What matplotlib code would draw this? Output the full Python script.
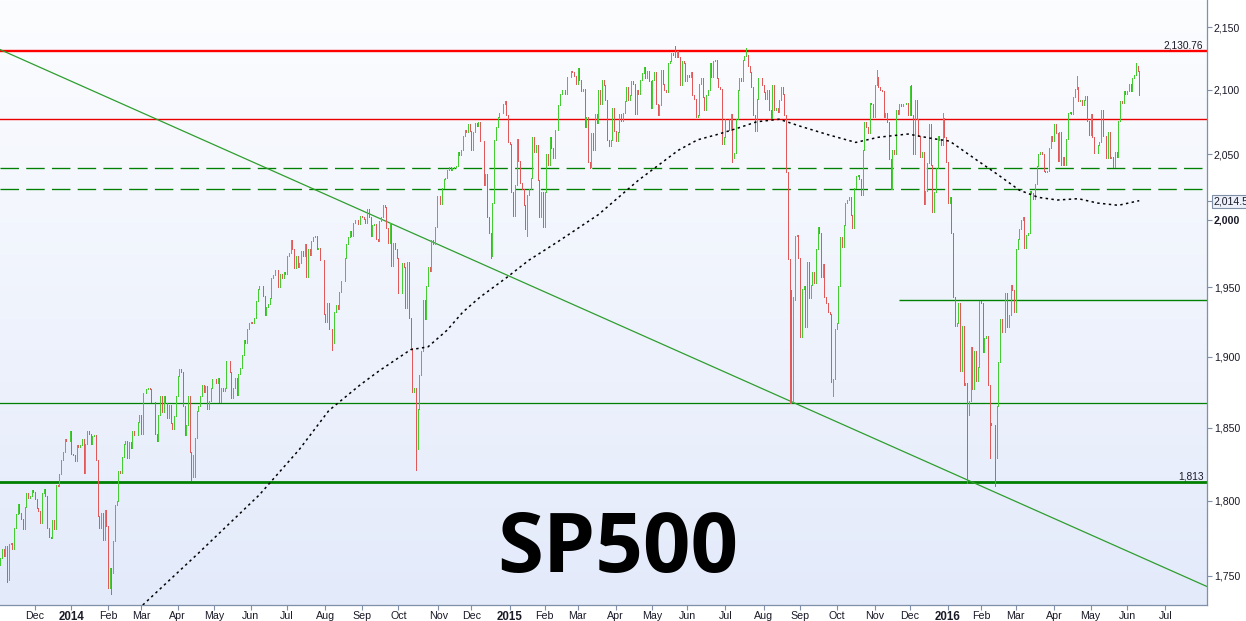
import numpy as np
import pandas as pd
import matplotlib
matplotlib.use("Agg")
import matplotlib.pyplot as plt
import matplotlib.transforms as mtransforms
from matplotlib.ticker import FixedLocator, FixedFormatter, NullLocator

# daily closes of the S&P 500, 2013-11-01 .. 2016-06-10
first_open = 1757
close = [
    # Nov 2013
    1762, 1768, 1763, 1770, 1747, 1771, 1772, 1768, 1782, 1791, 1798, 1792, 1788, 1781, 1796, 1805, 1802, 1803, 1807, 1806,
    # Dec 2013
    1801, 1795, 1793, 1785, 1805, 1808, 1803, 1782, 1776, 1775, 1787, 1781, 1811, 1810, 1818, 1828, 1833, 1842, 1841, 1841, 1848,
    # 2014
    1832, 1831, 1827, 1838, 1837, 1838, 1842, 1819, 1839, 1848, 1846, 1839, 1844, 1845, 1828, 1790, 1782, 1792, 1774, 1794, 1783,
    1742, 1755, 1752, 1773, 1797, 1800, 1820, 1819, 1830, 1839, 1841, 1829, 1840, 1836, 1848, 1845, 1845, 1854, 1859,
    1846, 1874, 1874, 1877, 1878, 1877, 1868, 1868, 1846, 1841, 1859, 1872, 1861, 1872, 1867, 1857, 1866, 1853, 1849, 1858, 1872,
    1886, 1891, 1889, 1865, 1845, 1852, 1872, 1833, 1816, 1831, 1843, 1862, 1865, 1872, 1880, 1875, 1879, 1863, 1869, 1878, 1884,
    1884, 1881, 1885, 1868, 1878, 1876, 1878, 1897, 1897, 1889, 1871, 1878, 1885, 1873, 1888, 1892, 1901, 1912, 1910, 1920, 1924,
    1925, 1924, 1928, 1940, 1949, 1951, 1951, 1944, 1930, 1936, 1938, 1942, 1957, 1959, 1963, 1963, 1950, 1960, 1957, 1961, 1960,
    1973, 1975, 1985, 1978, 1964, 1973, 1965, 1968, 1977, 1973, 1982, 1958, 1978, 1974, 1984, 1987, 1988, 1978, 1979, 1970, 1970, 1931,
    1925, 1939, 1920, 1920, 1910, 1932, 1937, 1934, 1947, 1955, 1955, 1972, 1982, 1987, 1992, 1988, 1998, 2000, 2000, 1997, 2003,
    2002, 2001, 1998, 2008, 2002, 1988, 1996, 1997, 1986, 1984, 1999, 2002, 2011, 2010, 1994, 1983, 1998, 1966, 1983, 1978, 1972,
    1946, 1946, 1968, 1965, 1935, 1969, 1928, 1906, 1875, 1878, 1862, 1863, 1887, 1904, 1941, 1927, 1951, 1965, 1962, 1985, 1982, 1995, 2018,
    2018, 2012, 2024, 2031, 2032, 2038, 2040, 2038, 2039, 2040, 2041, 2052, 2049, 2053, 2064, 2069, 2067, 2073, 2068,
    2053, 2067, 2074, 2072, 2075, 2060, 2060, 2026, 2035, 2002, 1990, 1973, 2013, 2061, 2071, 2079, 2082, 2082, 2089, 2091, 2080, 2059,
    # 2015
    2058, 2021, 2003, 2026, 2062, 2045, 2028, 2023, 2011, 1993, 2019, 2023, 2032, 2063, 2052, 2057, 2030, 2002, 2021, 1995,
    2021, 2050, 2042, 2063, 2055, 2047, 2069, 2069, 2088, 2097, 2100, 2100, 2097, 2110, 2110, 2115, 2114, 2111, 2105,
    2117, 2108, 2099, 2101, 2071, 2079, 2044, 2040, 2066, 2053, 2081, 2074, 2100, 2089, 2108, 2104, 2092, 2061, 2056, 2061, 2086, 2068,
    2060, 2067, 2081, 2076, 2082, 2091, 2102, 2092, 2096, 2107, 2105, 2081, 2100, 2097, 2108, 2113, 2118, 2109, 2115, 2107, 2086,
    2108, 2114, 2089, 2080, 2088, 2116, 2105, 2100, 2098, 2121, 2123, 2129, 2128, 2126, 2131, 2126, 2104, 2123, 2121, 2107,
    2112, 2110, 2114, 2096, 2093, 2079, 2080, 2105, 2109, 2094, 2084, 2096, 2100, 2121, 2110, 2123, 2124, 2109, 2102, 2101, 2058, 2063,
    2077, 2077, 2069, 2081, 2047, 2051, 2077, 2100, 2109, 2107, 2124, 2127, 2128, 2119, 2114, 2102, 2080, 2068, 2093, 2109, 2109, 2104,
    2098, 2093, 2100, 2084, 2078, 2104, 2084, 2086, 2083, 2092, 2102, 2097, 2080, 2036, 1971, 1893, 1868, 1941, 1988, 1989, 1972,
    1914, 1949, 1951, 1921, 1969, 1942, 1952, 1961, 1953, 1978, 1995, 1990, 1958, 1967, 1943, 1939, 1932, 1931, 1882, 1884, 1920,
    1924, 1951, 1987, 1980, 1996, 2013, 2015, 2017, 2004, 1994, 2024, 2033, 2034, 2031, 2019, 2053, 2075, 2071, 2066, 2090, 2089, 2079,
    2104, 2110, 2102, 2100, 2099, 2079, 2082, 2075, 2046, 2023, 2053, 2050, 2084, 2081, 2089, 2087, 2089, 2089, 2090, 2080,
    2103, 2080, 2050, 2092, 2077, 2064, 2048, 2052, 2012, 2022, 2043, 2073, 2042, 2006, 2021, 2039, 2064, 2061, 2057, 2078, 2063, 2044,
    # 2016
    2013, 2017, 1990, 1943, 1922, 1924, 1939, 1890, 1922, 1880, 1881, 1859, 1869, 1907, 1877, 1904, 1883, 1893, 1940,
    1939, 1903, 1913, 1915, 1880, 1853, 1852, 1852, 1829, 1865, 1896, 1927, 1918, 1918, 1946, 1921, 1930, 1952, 1948, 1932,
    1978, 1986, 1993, 2000, 2002, 1979, 1989, 1990, 2022, 2020, 2016, 2027, 2041, 2050, 2052, 2050, 2037, 2036, 2037, 2055, 2064, 2060,
    2073, 2066, 2045, 2067, 2042, 2048, 2042, 2062, 2082, 2083, 2081, 2094, 2101, 2102, 2091, 2092, 2088, 2092, 2095, 2076, 2065,
    2081, 2063, 2051, 2051, 2057, 2059, 2084, 2064, 2064, 2047, 2067, 2047, 2048, 2040, 2052, 2048, 2076, 2091, 2090, 2099, 2097,
    2099, 2105, 2099, 2109, 2112, 2119, 2115, 2096,
]

# intraday extremes that stick out of the close-to-close range
low_dates = ["2013-11-07", "2014-02-05", "2014-04-11", "2014-04-15", "2014-08-07", "2014-10-15", "2014-10-16",
             "2014-12-16", "2015-01-16", "2015-03-11", "2015-07-08", "2015-08-24", "2015-08-25", "2015-09-29",
             "2016-01-20", "2016-02-08", "2016-02-11"]
low_vals = [1746, 1738, 1814, 1816, 1905, 1821, 1835, 1972, 1988, 2039, 2044, 1867, 1867, 1872, 1812, 1829, 1810]
high_dates = ["2015-05-20", "2015-07-20", "2015-08-24", "2015-08-25", "2015-08-26", "2015-11-03", "2015-12-02",
              "2015-12-29", "2016-04-20", "2016-06-08"]
high_vals = [2135, 2133, 1965, 1948, 1943, 2116, 2104, 2082, 2111, 2121]

# 200 day moving average (dotted line)
ma_dates = ["2014-03-04", "2014-04-17", "2014-06-09", "2014-07-11", "2014-08-05", "2014-08-29", "2014-09-16",
            "2014-10-10", "2014-10-24", "2014-11-10", "2014-11-21", "2014-12-08", "2014-12-30", "2015-01-20",
            "2015-02-12", "2015-03-18", "2015-04-21", "2015-05-22", "2015-06-09", "2015-06-24", "2015-07-13",
            "2015-07-28", "2015-08-14", "2015-08-31", "2015-09-24", "2015-10-16", "2015-11-04", "2015-11-30",
            "2015-12-18", "2016-01-05", "2016-01-28", "2016-02-16", "2016-03-03", "2016-03-18", "2016-04-05",
            "2016-04-21", "2016-05-06", "2016-05-24", "2016-06-10"]
ma_vals = [1731, 1765, 1804, 1835, 1862, 1880, 1890, 1905, 1907, 1919, 1932, 1943, 1957, 1970,
           1984, 2004, 2030, 2053, 2061, 2065, 2070, 2075, 2077, 2072, 2065, 2059, 2063, 2065.5,
           2062, 2060, 2045, 2034, 2022.5, 2017, 2015, 2016, 2012.7, 2011, 2014.5]

# support / resistance lines
resist_top = 2130.76
resist_mid = 2077
dashed_levels = [2039, 2023]
support_1941 = 1941
support_1941_from = "2015-11-20"
support_1867 = 1867
support_1813 = 1813
trend_x = [-0.1, 694]
trend_y = [2132, 1743]

ytick_vals = [2150, 2100, 2050, 2014.5, 2000, 1950, 1900, 1850, 1800, 1750]
ytick_text = ["2,150", "2,100", "2,050", "2,014.5", "2,000", "1,950", "1,900", "1,850", "1,800", "1,750"]

holidays = ["2013-11-28", "2013-12-25", "2014-01-01", "2014-01-20", "2014-02-17", "2014-04-18", "2014-05-26",
            "2014-07-04", "2014-09-01", "2014-11-27", "2014-12-25", "2015-01-01", "2015-01-19", "2015-02-16",
            "2015-04-03", "2015-05-25", "2015-07-03", "2015-09-07", "2015-11-26", "2015-12-25", "2016-01-01",
            "2016-01-18", "2016-02-15", "2016-03-25", "2016-05-30", "2016-07-04"]

dates = pd.bdate_range("2013-11-01", "2016-07-29", freq="C", holidays=holidays)
pos = {d: i for i, d in enumerate(dates)}


def ix(d):
    return pos[pd.Timestamp(d)]


c = np.array(close, dtype=float)
n = len(c)
x = np.arange(n)
prev = np.r_[first_open, c[:-1]]
lo = np.minimum(prev, c)
hi = np.maximum(prev, c)
for d, v in zip(low_dates, low_vals):
    lo[ix(d)] = min(lo[ix(d)], v)
for d, v in zip(high_dates, high_vals):
    hi[ix(d)] = max(hi[ix(d)], v)
up = c >= prev

W, H = 1246, 621
fig = plt.figure(figsize=(W / 100, H / 100), dpi=100)
fig.patch.set_facecolor("white")
rect = [0, 16 / H, 1207 / W, 605 / H]

# gradient background
bg = fig.add_axes(rect, zorder=0)
grad = np.linspace(0, 1, 256).reshape(-1, 1)
top = np.array([252, 253, 255]) / 255
bot = np.array([227, 234, 250]) / 255
img = top[None, None, :] * (1 - grad[:, :, None]) + bot[None, None, :] * grad[:, :, None]
bg.imshow(img, aspect="auto", extent=[0, 1, 0, 1])
bg.axis("off")

ax = fig.add_axes(rect, zorder=1)
ax.set_facecolor("none")
ax.set_yscale("log")

red_bar = "#E05858"
green_bar = "#44CC33"
dark_green = "#008000"

# horizontal levels
ax.axhline(resist_top, color="#FF0000", lw=1.7, zorder=2)
ax.axhline(resist_mid, color="#E80000", lw=1.0, zorder=2)
for lv in dashed_levels:
    ax.axhline(lv, color=dark_green, lw=0.95, ls=(0, (14, 5.5)), zorder=2)
ax.hlines(support_1941, ix(support_1941_from), 700, color=dark_green, lw=1.0, zorder=2)
ax.axhline(support_1867, color=dark_green, lw=0.9, zorder=2)
ax.axhline(support_1813, color=dark_green, lw=2.0, zorder=2)
ax.plot(trend_x, trend_y, color="#2E9E2E", lw=0.9, zorder=2)

# daily bars
ax.vlines(x[up], lo[up], hi[up], color=green_bar, lw=0.7, antialiased=False, zorder=3)
ax.vlines(x[~up], lo[~up], hi[~up], color=red_bar, lw=0.7, antialiased=False, zorder=3)

# moving average
ma_x = [ix(d) for d in ma_dates]
ax.plot(ma_x, ma_vals, color="black", lw=1.1, ls=(0, (1.6, 2.2)), zorder=4)

ax.set_xlim(-0.115, 693.96)
ax.set_ylim(1731, 2172)

# y axis on the right
ax.yaxis.tick_right()
ax.yaxis.set_major_locator(FixedLocator(ytick_vals))
ax.yaxis.set_major_formatter(FixedFormatter(ytick_text))
ax.yaxis.set_minor_locator(NullLocator())
ax.tick_params(axis="y", length=3.5, width=0.8, color="#7F90A8", pad=1.5,
               labelsize=7.6, labelcolor="#1A1A28")
for t in ax.get_yticklabels():
    t.set_family("Liberation Sans")
    if t.get_text() == "2,000":
        t.set_fontweight("bold")
    if t.get_text() == "2,014.5":
        t.set_bbox(dict(boxstyle="square,pad=0.15", fc="#EDF1FA", ec="#7F8FA6", lw=0.8))

# x axis: first trading day of each month
month_pos, month_lab, month_bold = [], [], []
for (yy, mm), grp in pd.Series(range(len(dates)), index=dates).groupby([dates.year, dates.month]):
    if (yy, mm) < (2013, 12) or (yy, mm) > (2016, 7):
        continue
    month_pos.append(grp.iloc[0])
    if mm == 1:
        month_lab.append(str(yy))
        month_bold.append(True)
    else:
        month_lab.append(pd.Timestamp(yy, mm, 1).strftime("%b"))
        month_bold.append(False)
ax.xaxis.set_major_locator(FixedLocator(month_pos))
ax.xaxis.set_major_formatter(FixedFormatter(month_lab))
ax.tick_params(axis="x", length=3.5, width=0.8, color="#7F90A8", pad=1.0,
               labelsize=7.7, labelcolor="#1A1A28")
for t, b in zip(ax.get_xticklabels(), month_bold):
    t.set_family("Liberation Sans")
    if b:
        t.set_fontweight("bold")
        t.set_fontsize(8.3)

for s in ["left", "top"]:
    ax.spines[s].set_visible(False)
for s in ["right", "bottom"]:
    ax.spines[s].set_color("#7F90A8")
    ax.spines[s].set_linewidth(0.9)

# level labels
blend = mtransforms.blended_transform_factory(ax.transAxes, ax.transData)
ax.text(0.9967, resist_top * 1.0009, "2,130.76", transform=blend, ha="right", va="baseline",
        fontsize=7.3, family="Liberation Sans", color="#1A1A28", zorder=5)
ax.text(0.9975, support_1813 * 1.0009, "1,813", transform=blend, ha="right", va="baseline",
        fontsize=7.3, family="Liberation Sans", color="#1A1A28", zorder=5)

# title
ax.text(0.512, 0.0545, "SP500", transform=ax.transAxes, ha="center", va="baseline",
        fontsize=60, fontweight="bold", family="Open Sans", color="black", zorder=6)

fig.savefig("out.png", dpi=100)
